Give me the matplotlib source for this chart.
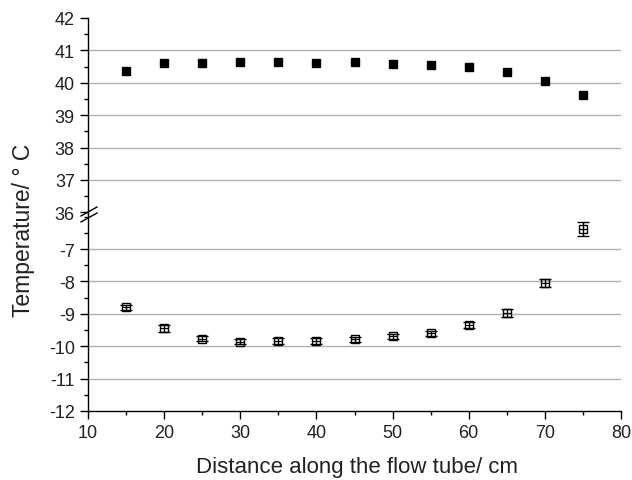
import matplotlib
matplotlib.use("Agg")
import matplotlib.pyplot as plt
from matplotlib.lines import Line2D
from matplotlib.ticker import MultipleLocator, FixedLocator

plt.rcParams['font.family'] = ['Liberation Sans', 'DejaVu Sans']
plt.rcParams['axes.unicode_minus'] = False

distance = [15, 20, 25, 30, 35, 40, 45, 50, 55, 60, 65, 70, 75]
hot_temp = [40.35, 40.62, 40.61, 40.64, 40.64, 40.61, 40.64, 40.58, 40.56, 40.50, 40.33, 40.06, 39.62]
hot_err = [0.05, 0.05, 0.05, 0.05, 0.05, 0.05, 0.05, 0.05, 0.05, 0.05, 0.05, 0.05, 0.06]
cold_temp = [-8.80, -9.45, -9.77, -9.86, -9.84, -9.84, -9.79, -9.70, -9.60, -9.34, -8.97, -8.05, -6.39]
cold_err = [0.07, 0.10, 0.08, 0.08, 0.08, 0.08, 0.08, 0.08, 0.08, 0.09, 0.12, 0.13, 0.21]

top_ticks = [36, 37, 38, 39, 40, 41, 42]
bot_ticks = [-12, -11, -10, -9, -8, -7]
x_ticks = [10, 20, 30, 40, 50, 60, 70, 80]

top_lim = (35.95, 42)
bot_lim = (-12, -5.92)
x_lim = (10, 80)

W, H = 632, 481
fig = plt.figure(figsize=(W / 100, H / 100), dpi=100)

left_px, right_px = 88, 621
top_px, bottom_px = 19, 412
span_top = top_lim[1] - top_lim[0]
span_bot = bot_lim[1] - bot_lim[0]
total = span_top + span_bot
h_total = (bottom_px - top_px) / H
h_top = h_total * span_top / total
h_bot = h_total * span_bot / total
x0 = left_px / W
w = (right_px - left_px) / W
y_bot = 1 - bottom_px / H

ax_b = fig.add_axes([x0, y_bot, w, h_bot])
ax_t = fig.add_axes([x0, y_bot + h_bot, w, h_top], sharex=ax_b)

tick_col = '#222222'
for ax, ticks in ((ax_t, top_ticks), (ax_b, bot_ticks)):
    ax.spines['top'].set_visible(False)
    ax.spines['right'].set_visible(False)
    ax.spines['left'].set_linewidth(1.0)
    ax.yaxis.set_major_locator(FixedLocator(ticks))
    ax.yaxis.set_minor_locator(MultipleLocator(0.5))
    ax.tick_params(axis='both', which='major', direction='out', length=6, width=1,
                   labelsize=13, colors='black', labelcolor=tick_col)
    ax.tick_params(axis='both', which='minor', direction='out', length=3, width=1)
    ax.grid(axis='y', which='major', color='#b0b0b0', linewidth=1.0)
    ax.set_axisbelow(True)

ax_t.spines['bottom'].set_visible(False)
ax_t.tick_params(axis='x', which='both', bottom=False, labelbottom=False)

ax_b.set_xlim(*x_lim)
ax_b.xaxis.set_major_locator(FixedLocator(x_ticks))
ax_b.xaxis.set_minor_locator(MultipleLocator(5))
ax_b.spines['bottom'].set_linewidth(1.0)

ax_t.set_ylim(*top_lim)
ax_b.set_ylim(*bot_lim)

ax_t.errorbar(distance, hot_temp, yerr=hot_err, fmt='s', color='black',
              markersize=6.3, capsize=3, elinewidth=1, capthick=1, zorder=3)
ax_b.errorbar(distance, cold_temp, yerr=cold_err, fmt='s', color='black',
              markerfacecolor='none', markeredgewidth=1.0,
              markersize=6, capsize=4, elinewidth=1, capthick=1, zorder=3)
ax_b.plot(distance, cold_temp, linestyle='none', marker='_', markersize=6,
          color='black', markeredgewidth=0.9, zorder=4)

fig.canvas.draw()
for tick in ax_t.yaxis.get_major_ticks():
    if abs(tick.get_loc() - 42) < 1e-6 or abs(tick.get_loc() - 36) < 1e-6:
        tick.gridline.set_visible(False)
for tick in ax_b.yaxis.get_major_ticks():
    if abs(tick.get_loc() + 12) < 1e-6:
        tick.gridline.set_visible(False)

# axis break marks
def px(x, y):
    return (x / W, 1 - y / H)

for (xa, ya, xb, yb) in [(81, 217, 97, 208), (81, 223, 97, 214)]:
    (fx0, fy0), (fx1, fy1) = px(xa, ya), px(xb, yb)
    fig.add_artist(Line2D([fx0, fx1], [fy0, fy1], color='black', linewidth=1.0))

fig.text(357 / W, 1 - 468 / H, 'Distance along the flow tube/ cm',
         ha='center', va='center', fontsize=16, color=tick_col)
fig.text(24 / W, 1 - 230 / H, 'Temperature/ ° C', rotation=90,
         ha='center', va='center', fontsize=16.5, color=tick_col)

fig.savefig('out.png', dpi=100)
